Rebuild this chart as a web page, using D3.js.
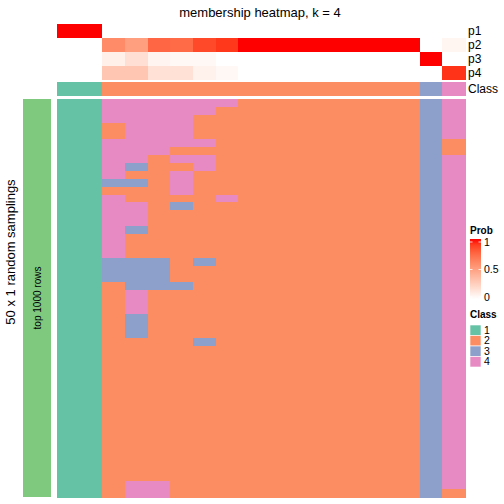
<!DOCTYPE html>
<html><head><meta charset="utf-8">
<script src="https://cdn.jsdelivr.net/npm/d3@7"></script>
<style>body{margin:0;background:#fff}svg{display:block;font-family:"Liberation Sans",Arial,Helvetica,sans-serif}</style>
</head><body><svg id="c" width="504" height="504"></svg>
<script>
// ---- data ----
const columns = d3.range(18).map(i => "s" + (i + 1));
const classOfColumn = [1,1,2,2,2,2,2,2,2,2,2,2,2,2,2,2,3,4];
const p1 = [1,1,0,0,0,0,0,0,0,0,0,0,0,0,0,0,0,0];
const p2 = [0,0,0.6,0.5,0.76,0.74,0.87,0.92,1,1,1,1,1,1,1,1,0,0.05];
const p3 = [0,0,0.08,0.17,0.06,0.04,0.04,0,0,0,0,0,0,0,0,0,1,0];
const p4 = [0,0,0.3,0.3,0.16,0.16,0.07,0.04,0,0,0,0,0,0,0,0,0,0.93];
const probNames = ["p1","p2","p3","p4"];
const classLevels = [1,2,3,4];
const classColors = ["#66C2A5","#FC8D62","#8DA0CB","#E78AC3"];
const probTicks = [0, 0.5, 1];
// 50 random samplings x 18 columns (class label per cell)
const samplings = [
"114444442222222234","114444422222222234","114444222222222234","112444222222222234",
"112444222222222234","114444422222222232","114442222222222232","114424422222222234",
"114322422222222234","114224222222222234","113324222222222234","112224222222222234",
"114222242222222234","114423222222222234","114422222222222234","114422222222222234",
"114322222222222234","114222222222222234","114222222222222234","114222222222222234",
"113332322222222234","113332222222222234","113332222222222234","112333222222222234",
"112422222222222234","112422222222222234","112422222222222234","112322222222222234",
"112322222222222234","112322222222222234","112222322222222234","112222222222222234",
"112222222222222234","112222222222222234","112222222222222234","112222222222222234",
"112222222222222234","112222222222222234","112222222222222234","112222222222222234",
"112222222222222234","112222222222222234","112222222222222234","112222222222222234",
"112222222222222234","112222222222222234","112222222222222234","112222222222222234",
"112442222222222234","112442222222222232"
];

// ---- drawing ----
const svg = d3.select("#c");
const probColor = d3.scaleLinear().domain([0,1]).range(["white","red"]).interpolate(d3.interpolateLab);
const classColor = d3.scaleOrdinal().domain(classLevels).range(classColors);

const x = d3.scaleBand().domain(d3.range(columns.length)).range([57, 465]);
const yTop = d3.scaleBand().domain(probNames).range([24, 80]);
const probRows = [p1,p2,p3,p4];

svg.append("text").attr("x", 260).attr("y", 17).attr("text-anchor","middle")
  .attr("font-size", 13).text("membership heatmap, k = 4");

probRows.forEach((arr, r) => {
  svg.append("g").attr("shape-rendering","crispEdges").selectAll("rect").data(arr).join("rect")
    .attr("x", (d,i) => x(i)).attr("y", yTop(probNames[r]))
    .attr("width", x.bandwidth() + 0.5).attr("height", yTop.bandwidth() + 0.3)
    .attr("fill", d => probColor(d));
  svg.append("text").attr("x", 468).attr("y", yTop(probNames[r]) + yTop.bandwidth()/2)
    .attr("dy","0.35em").attr("font-size", 12).text(probNames[r]);
});

// class annotation row
svg.append("g").attr("shape-rendering","crispEdges").selectAll("rect").data(classOfColumn).join("rect")
  .attr("x", (d,i) => x(i)).attr("y", 82).attr("width", x.bandwidth() + 0.5).attr("height", 14)
  .attr("fill", d => classColor(d));
svg.append("text").attr("x", 468).attr("y", 89).attr("dy","0.35em").attr("font-size", 12).text("Class");

// main heatmap
const y = d3.scaleBand().domain(d3.range(samplings.length)).range([99, 497]);
const cells = [];
samplings.forEach((row, r) => row.split("").forEach((c, i) => cells.push({r, i, v: +c})));
svg.append("g").attr("shape-rendering","crispEdges").selectAll("rect").data(cells).join("rect")
  .attr("x", d => x(d.i)).attr("y", d => y(d.r))
  .attr("width", x.bandwidth() + 0.5).attr("height", y.bandwidth() + 0.5)
  .attr("fill", d => classColor(d.v));

// left annotation bar
svg.append("rect").attr("x", 23).attr("y", 99).attr("width", 28).attr("height", 398).attr("fill", "#7FC97F");
svg.append("text").attr("transform", "translate(37,298) rotate(-90)").attr("text-anchor","middle")
  .attr("dy","0.35em").attr("font-size", 10).text("top 1000 rows");
svg.append("text").attr("transform", "translate(10,252) rotate(-90)").attr("text-anchor","middle")
  .attr("dy","0.35em").attr("font-size", 13).text("50 x 1 random samplings");

// Prob legend
const lx = 470;
svg.append("text").attr("x", lx).attr("y", 234).attr("font-size", 10).attr("font-weight","bold").text("Prob");
const defs = svg.append("defs");
const grad = defs.append("linearGradient").attr("id","pg").attr("x1",0).attr("y1",1).attr("x2",0).attr("y2",0);
d3.range(0, 1.0001, 0.1).forEach(t => grad.append("stop").attr("offset", t).attr("stop-color", probColor(t)));
const ly = d3.scaleLinear().domain([0,1]).range([297, 242]);
svg.append("rect").attr("x", lx).attr("y", 239).attr("width", 11).attr("height", 60).attr("fill", "url(#pg)");
probTicks.forEach(t => {
  svg.append("line").attr("x1", lx).attr("x2", lx+2.5).attr("y1", ly(t)).attr("y2", ly(t)).attr("stroke","white").attr("stroke-width",0.8);
  svg.append("line").attr("x1", lx+8.5).attr("x2", lx+11).attr("y1", ly(t)).attr("y2", ly(t)).attr("stroke","white").attr("stroke-width",0.8);
  svg.append("text").attr("x", lx+14).attr("y", ly(t)).attr("dy","0.35em").attr("font-size",10.5).text(t);
});

// Class legend
svg.append("text").attr("x", lx).attr("y", 318).attr("font-size", 10).attr("font-weight","bold").text("Class");
const lc = d3.scaleBand().domain(classLevels).range([325, 367]);
classLevels.forEach(c => {
  svg.append("rect").attr("x", lx).attr("y", lc(c)).attr("width", 11).attr("height", lc.bandwidth())
    .attr("fill", classColor(c)).attr("stroke","white").attr("stroke-width",0.6);
  svg.append("text").attr("x", lx+14).attr("y", lc(c) + lc.bandwidth()/2).attr("dy","0.35em").attr("font-size",10.5).text(c);
});
</script></body></html>
